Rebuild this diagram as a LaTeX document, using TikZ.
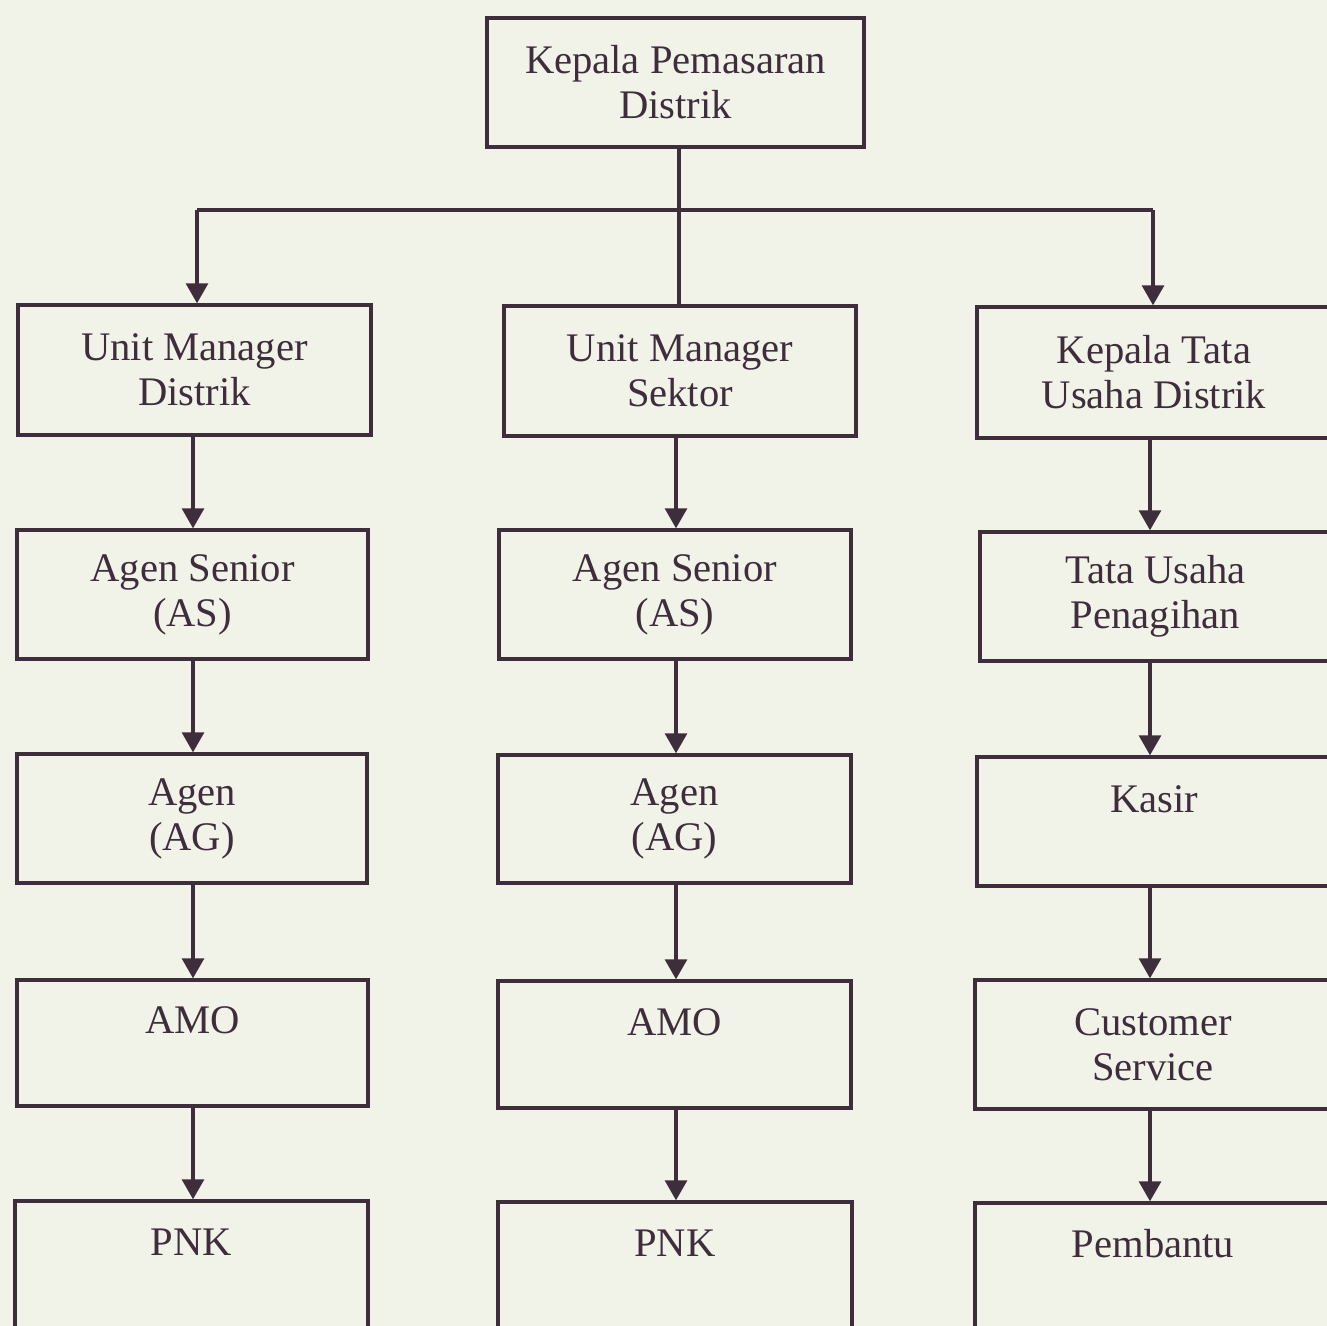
\documentclass[tikz,border=0pt]{standalone}
\usepackage{fontspec}
\setmainfont{Liberation Serif}
\usetikzlibrary{arrows.meta}
\definecolor{paper}{RGB}{241,243,233}
\definecolor{ink}{RGB}{62,46,60}
\tikzset{
  box/.style={draw=ink, line width=1.7pt, align=center, inner sep=0pt, text=ink,
    font=\fontsize{20.3}{22.5}\selectfont},
  conn/.style={draw=ink, line width=1.6pt},
  arr/.style={conn, -{Triangle[width=11pt,length=10pt]}},
}
\newcommand\obox[6]{\node[box, minimum width={0.5pt*(#4-#2)}, minimum height={0.5pt*(#5-#3)}] (#1) at ({(#2+#4)/2},{(#3+#5)/2}) {#6};}
\begin{document}
\begin{tikzpicture}[x=0.5pt,y=-0.5pt]
\fill[paper] (0,0) rectangle (1327,1326);
\useasboundingbox (0,0) rectangle (1327,1326);
\clip (0,0) rectangle (1327,1326);
% top
\obox{top}{487}{18}{864}{147}{Kepala Pemasaran\\Distrik}
% row 1
\obox{l1}{18}{305}{371}{435}{Unit Manager\\Distrik}
\obox{m1}{504}{306}{856}{436}{Unit Manager\\Sektor}
\obox{r1}{977}{307}{1331}{438}{Kepala Tata\\Usaha Distrik}
% row 2
\obox{l2}{17}{530}{368}{659}{Agen Senior\\(AS)}
\obox{m2}{499}{530}{851}{659}{Agen Senior\\(AS)}
\obox{r2}{980}{532}{1331}{661}{Tata Usaha\\Penagihan}
% row 3
\obox{l3}{17}{754}{367}{883}{Agen\\(AG)}
\obox{m3}{498}{755}{851}{883}{Agen\\(AG)}
\obox{r3}{977}{757}{1331}{886}{Kasir\\\mbox{}}
% row 4
\obox{l4}{17}{980}{368}{1106}{AMO\\\mbox{}}
\obox{m4}{498}{981}{851}{1108}{AMO\\\mbox{}}
\obox{r4}{975}{980}{1331}{1109}{Customer\\Service}
% row 5
\obox{l5}{15}{1201}{368}{1329}{PNK\\\mbox{}}
\obox{m5}{498}{1202}{852}{1329}{PNK\\\mbox{}}
\obox{r5}{975}{1203}{1331}{1329}{Pembantu\\\mbox{}}
% top connectors
\coordinate (jm) at (679,210);
\coordinate (jl) at (197,210);
\coordinate (jr) at (1153,210);
\draw[conn] (jm |- top.south) -- (jm |- m1.north);
\draw[conn] (jl) -- (jr);
\draw[arr] (jl) -- (jl |- l1.north);
\draw[arr] (jr) -- (jr |- r1.north);
% column connectors
\coordinate (cl) at (193,0);
\coordinate (cm) at (676,0);
\coordinate (cr) at (1150,0);
\foreach \a/\b in {l1/l2,l2/l3,l3/l4,l4/l5}{\draw[arr] (cl |- \a.south) -- (cl |- \b.north);}
\foreach \a/\b in {m1/m2,m2/m3,m3/m4,m4/m5}{\draw[arr] (cm |- \a.south) -- (cm |- \b.north);}
\foreach \a/\b in {r1/r2,r2/r3,r3/r4,r4/r5}{\draw[arr] (cr |- \a.south) -- (cr |- \b.north);}
\end{tikzpicture}
\end{document}
